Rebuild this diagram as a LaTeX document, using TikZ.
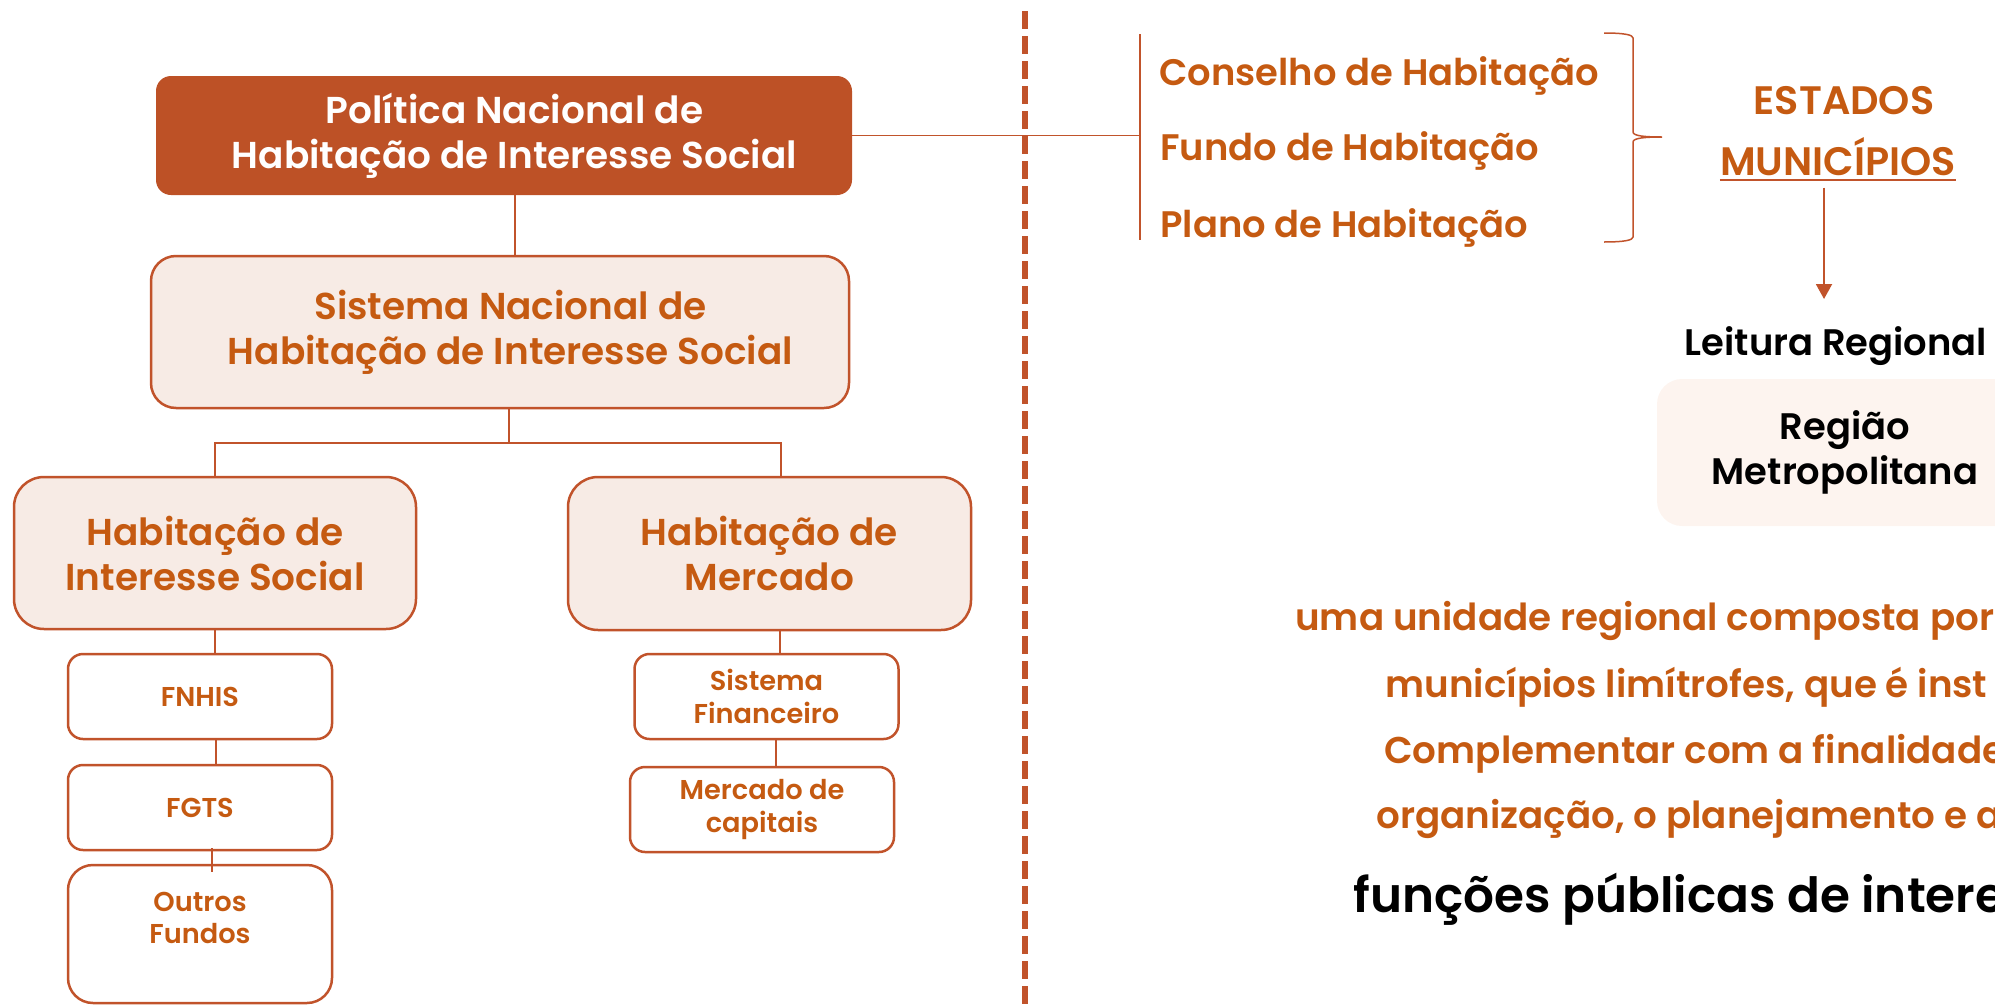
\documentclass[tikz,border=0pt]{standalone}
\usepackage{fontspec}
\usepackage{xcolor}
\usetikzlibrary{arrows.meta}
\usetikzlibrary{positioning}
\IfFontExistsTF{Poppins SemiBold}{\newfontfamily\semib{Poppins SemiBold}}{\newfontfamily\semib{Poppins}[FakeBold=1.2]}
\definecolor{boxorange}{HTML}{BD5126}
\definecolor{lineorange}{HTML}{C1532B}
\definecolor{txtorange}{HTML}{C55A11}
\definecolor{lightfill}{HTML}{F7EBE5}
\definecolor{regfill}{HTML}{FDF4EF}
\newcommand{\bigtxt}{\semib\fontsize{21.3}{25.6}\selectfont}
\newcommand{\smalltxt}{\semib\fontsize{15.5}{18.3}\selectfont}
\newcommand{\listtxt}{\semib\fontsize{21}{26}\selectfont}
\newcommand{\statetxt}{\semib\fontsize{22.6}{26}\selectfont}
\newcommand{\paratxt}{\semib\fontsize{21.2}{26}\selectfont}
\newcommand{\funtxt}{\semib\fontsize{27.6}{32}\selectfont}
\newcommand{\nudge}{\hspace*{0.42cm}}

\begin{document}
\begin{tikzpicture}[>=latex, font=\semib,
	mainbox/.style={rectangle, rounded corners=0.3cm, fill=boxorange, text=white, align=center, font=\bigtxt, minimum width=13.92cm, minimum height=2.38cm},
	sysbox/.style={rectangle, rounded corners=0.5cm, draw=lineorange, line width=0.05cm, fill=lightfill, text=txtorange, align=center, font=\bigtxt},
	fundbox/.style={rectangle, rounded corners=0.3cm, draw=lineorange, line width=0.05cm, fill=white, text=txtorange, align=center, font=\smalltxt, minimum width=5.28cm, minimum height=1.7cm},
	regbox/.style={rectangle, rounded corners=0.5cm, fill=regfill, text=black, align=center, font=\listtxt},
	link/.style={draw=lineorange, line width=0.04cm},
	thinlink/.style={draw=lineorange, line width=0.03cm},
	divider/.style={draw=lineorange, line width=0.12cm, dash pattern=on 0.36cm off 0.14cm},
	orangetxt/.style={text=txtorange, inner sep=0pt, font=\listtxt},
	blacktxt/.style={text=black, inner sep=0pt, font=\listtxt}]
	\useasboundingbox (0,0) rectangle (39.9,-20.12);
	\draw[divider] (20.5,-0.22) -- (20.5,-20.12);
	\node[mainbox] (pnhis) at (10.08,-2.71) {\nudge Política Nacional de\\\nudge Habitação de Interesse Social};
	\node[sysbox, minimum width=13.96cm, minimum height=3.04cm] (snhis) at (10.0,-6.64) {\nudge Sistema Nacional de\\\nudge Habitação de Interesse Social};
	\node[sysbox, minimum width=8.04cm, minimum height=3.04cm, rounded corners=0.6cm] (his) at (4.30,-11.06) {Habitação de\\Interesse Social};
	\node[sysbox, minimum width=8.06cm, minimum height=3.06cm, rounded corners=0.6cm] (hm) at (15.39,-11.07) {Habitação de\\Mercado};
	\node[fundbox] (fnhis) at (4.0,-13.93) {FNHIS};
	\node[fundbox] (fgts) at (4.0,-16.15) {FGTS};
	\node[fundbox, minimum height=2.76cm, rounded corners=0.5cm] (outros) at (4.0,-18.68) {Outros\\Fundos\\\mbox{}};
	\node[fundbox] (sf) at (15.33,-13.93) {Sistema\\Financeiro};
	\node[fundbox] (mc) at (15.24,-16.19) {Mercado de\\capitais};
	\draw[link] ([xshift=0.22cm]pnhis.south) -- ([xshift=0.22cm]pnhis.south |- snhis.north);
	\draw[link] ([xshift=0.18cm]snhis.south) -- ++(0,-0.68) -| (his.north);
	\draw[link] ([xshift=0.18cm]snhis.south) ++(0,-0.68) -| ([xshift=0.23cm]hm.north);
	\draw[link] (his.south) -- (his.south |- fnhis.north);
	\draw[link] ([xshift=0.32cm]fnhis.south) -- ([xshift=0.32cm]fgts.north);
	\draw[link] ([xshift=0.24cm,yshift=0.06cm]fgts.south) -- ([xshift=0.24cm,yshift=-0.16cm]outros.north);
	\draw[link] ([xshift=0.2cm]hm.south) -- ([xshift=0.2cm]hm.south |- sf.north);
	\draw[link] ([xshift=0.19cm]sf.south) -- ([xshift=0.19cm]sf.south |- mc.north);
	\coordinate (bartop) at (22.8,-0.68);
	\coordinate (barbot) at (22.8,-4.8);
	\draw[thinlink] (bartop) -- (barbot);
	\draw[thinlink] (pnhis.east) -- (pnhis.east -| bartop);
	\node[orangetxt, anchor=base west] (conselho) at (23.18,-1.71) {Conselho de Habitação};
	\node[orangetxt, anchor=base west] (fundo) at (23.2,-3.21) {Fundo de Habitação};
	\node[orangetxt, anchor=base west] (plano) at (23.2,-4.74) {Plano de Habitação};
	\draw[thinlink] (32.08,-0.66) .. controls (32.5,-0.66) and (32.66,-0.7) .. (32.66,-0.76) -- (32.66,-2.64) .. controls (32.66,-2.72) and (32.9,-2.74) .. (33.24,-2.74) .. controls (32.9,-2.74) and (32.66,-2.76) .. (32.66,-2.84) -- (32.66,-4.74) .. controls (32.66,-4.8) and (32.5,-4.84) .. (32.08,-4.84);
	\node[orangetxt, font=\statetxt, anchor=base] (est) at (36.88,-2.28) {ESTADOS};
	\node[orangetxt, font=\statetxt, anchor=base] (mun) at (36.76,-3.5) {MUNICÍPIOS};
	\draw[link] ([yshift=-0.1cm]mun.base west) -- ([yshift=-0.1cm]mun.base east);
	\coordinate (arrend) at (36.48,-5.98);
	\draw[link, -{Triangle[length=0.3cm,width=0.32cm]}] (mun.south -| arrend) ++(0,-0.24) -- (arrend);
	\node[blacktxt, anchor=base] (leit) at (36.72,-7.1) {Leitura Regional};
	\node[regbox, minimum width=7.52cm, minimum height=2.94cm] (reg) at (36.9,-9.05) {Região\\Metropolitana};
	\node[orangetxt, font=\paratxt, anchor=base west] (p1) at (25.9,-12.6) {uma unidade regional composta por};
	\node[orangetxt, font=\paratxt, anchor=base west] (p2) at (27.7,-13.94) {municípios limítrofes, que é inst};
	\node[orangetxt, font=\paratxt, anchor=base west] (p3) at (27.68,-15.26) {Complementar com a finalidade};
	\node[orangetxt, font=\paratxt, anchor=base west] (p4) at (27.52,-16.56) {organização, o planejamento e a};
	\node[blacktxt, font=\funtxt, anchor=base west] (p5) at (27.06,-18.24) {funções públicas de intere};
\end{tikzpicture}
\end{document}
